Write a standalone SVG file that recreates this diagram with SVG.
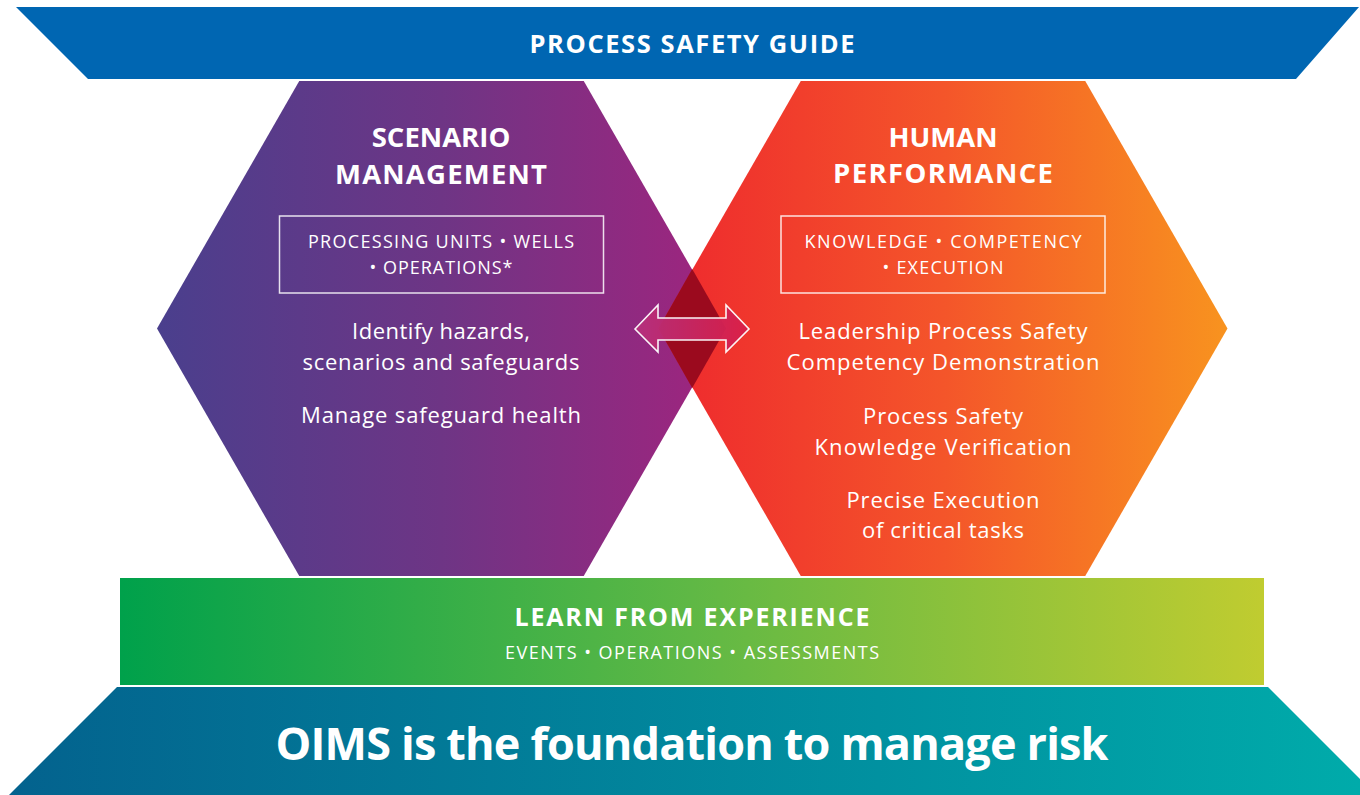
<svg xmlns="http://www.w3.org/2000/svg" width="1360" height="795" viewBox="0 0 1360 795">
<defs>
<linearGradient id="gPurple" gradientUnits="userSpaceOnUse" x1="157" y1="0" x2="726" y2="0">
<stop offset="0" stop-color="#4A3F8D"/><stop offset="0.5" stop-color="#6E3585"/><stop offset="1" stop-color="#A1247E"/>
</linearGradient>
<linearGradient id="gOrange" gradientUnits="userSpaceOnUse" x1="658" y1="0" x2="1228" y2="0">
<stop offset="0" stop-color="#EE282E"/><stop offset="0.5" stop-color="#F4552A"/><stop offset="1" stop-color="#F8931F"/>
</linearGradient>
<linearGradient id="gGreen" gradientUnits="userSpaceOnUse" x1="120" y1="0" x2="1264" y2="0">
<stop offset="0" stop-color="#00A14B"/><stop offset="0.5" stop-color="#5FB845"/><stop offset="1" stop-color="#C0CC30"/>
</linearGradient>
<linearGradient id="gTeal" gradientUnits="userSpaceOnUse" x1="9" y1="0" x2="1360" y2="0">
<stop offset="0" stop-color="#03628E"/><stop offset="1" stop-color="#00ABAA"/>
</linearGradient>
<linearGradient id="gArrow" gradientUnits="userSpaceOnUse" x1="635" y1="0" x2="749" y2="0">
<stop offset="0" stop-color="#B5307E"/><stop offset="1" stop-color="#DA1F48"/>
</linearGradient>
<style>
.hb{font-family:"Open Sans","Liberation Sans",sans-serif;font-weight:700;fill:#fff;text-anchor:middle}
.bd{font-family:"Open Sans","Liberation Sans",sans-serif;font-weight:400;fill:#fff;text-anchor:middle}
.box{fill:none;stroke:#fff;stroke-width:1.5;opacity:0.85}
</style>
</defs>

<g id="banner-top">
<polygon points="16,7 1359,7 1296,79 88,79" fill="#0066B2"/>
<text class="hb" x="692" y="53" font-size="25.5" textLength="325">PROCESS SAFETY GUIDE</text>
</g>

<g id="hex-scenario">
<polygon points="157,328.5 299.25,81 583.75,81 726,328.5 583.75,576 299.25,576" fill="url(#gPurple)"/>
</g>

<g id="hex-human">
<polygon points="658.5,328.5 800.75,81 1085.25,81 1227.5,328.5 1085.25,576 800.75,576" fill="url(#gOrange)"/>
</g>

<g id="overlap">
<polygon points="692.2,269 726,328.5 692.2,388 658.5,328.5" fill="#9B0A1E"/>
</g>

<g id="hex-scenario-text">
<text class="hb" x="441" y="147" font-size="27.5">SCENARIO</text>
<text class="hb" x="441" y="184" font-size="27.5" textLength="212">MANAGEMENT</text>
<rect class="box" x="279.5" y="216" width="324" height="77"/>
<text class="bd" x="441" y="248" font-size="18" textLength="266">PROCESSING UNITS  •  WELLS</text>
<text class="bd" x="441" y="274" font-size="18" textLength="143">•  OPERATIONS*</text>
<text class="bd" x="441" y="339" font-size="22" textLength="178">Identify hazards,</text>
<text class="bd" x="441" y="370" font-size="22" textLength="277">scenarios and safeguards</text>
<text class="bd" x="441" y="423" font-size="22" textLength="280">Manage safeguard health</text>
</g>

<g id="hex-human-text">
<text class="hb" x="943" y="147" font-size="27.5">HUMAN</text>
<text class="hb" x="943" y="183" font-size="27.5" textLength="220">PERFORMANCE</text>
<rect class="box" x="781" y="216" width="324" height="77"/>
<text class="bd" x="943" y="248" font-size="18" textLength="277">KNOWLEDGE  •  COMPETENCY</text>
<text class="bd" x="943" y="274" font-size="18" textLength="121">•  EXECUTION</text>
<text class="bd" x="943" y="339" font-size="22" textLength="289">Leadership Process Safety</text>
<text class="bd" x="943" y="370" font-size="22" textLength="313">Competency Demonstration</text>
<text class="bd" x="943" y="424" font-size="22" textLength="160">Process Safety</text>
<text class="bd" x="943" y="455" font-size="22" textLength="257">Knowledge Verification</text>
<text class="bd" x="943" y="508" font-size="22" textLength="193">Precise Execution</text>
<text class="bd" x="943" y="538" font-size="22" textLength="162">of critical tasks</text>
</g>

<g id="connectors">
<polygon points="635,329 658,305 658,318 726,318 726,305 749,329 726,352 726,340 658,340 658,352" fill="url(#gArrow)" stroke="#fff" stroke-width="1.6" stroke-linejoin="miter" opacity="0.95"/>
</g>

<g id="learn">
<rect x="120" y="578" width="1144" height="107" fill="url(#gGreen)"/>
<text class="hb" x="692" y="626" font-size="25" textLength="355">LEARN FROM EXPERIENCE</text>
<text class="bd" x="692" y="659" font-size="18" textLength="374">EVENTS  •  OPERATIONS  •  ASSESSMENTS</text>
</g>

<g id="oims">
<polygon points="117,687 1268,687 1376,795 9,795" fill="url(#gTeal)"/>
<text class="hb" x="692" y="760" font-size="45" textLength="833">OIMS is the foundation to manage risk</text>
</g>
</svg>
